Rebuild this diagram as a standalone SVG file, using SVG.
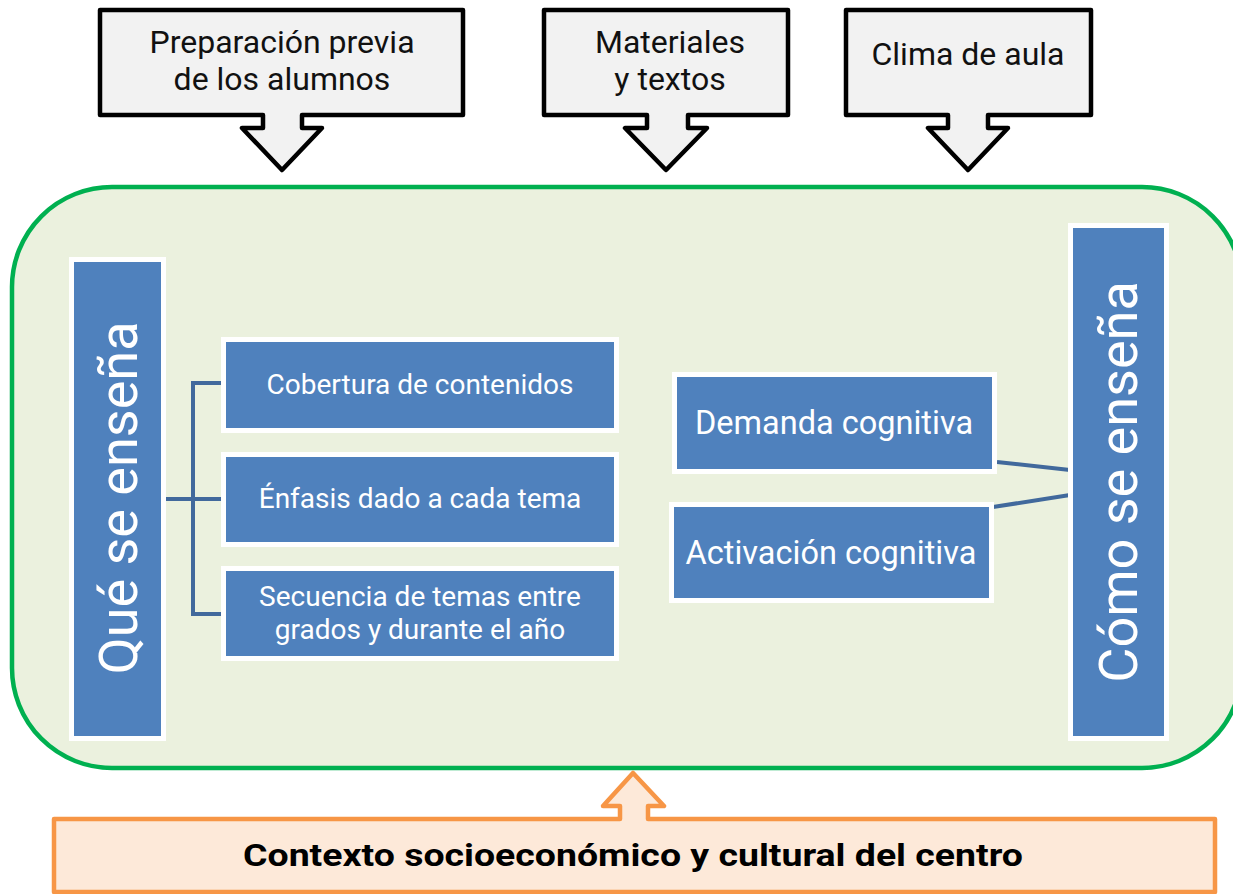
<svg xmlns="http://www.w3.org/2000/svg" width="1233" height="894" viewBox="0 0 1233 894">
<style>
.callout{fill:#F2F2F2;stroke:#000;stroke-width:4.5;stroke-linejoin:round}
.ct{font-family:Roboto,"Liberation Sans",sans-serif;font-size:32px;fill:#111;text-anchor:middle}
.bx{fill:#4F81BD;stroke:#fff;stroke-width:5}
.bt{font-family:Roboto,"Liberation Sans",sans-serif;font-size:28px;fill:#fff;text-anchor:middle}
.bt2{font-family:Roboto,"Liberation Sans",sans-serif;font-size:32.5px;fill:#fff;text-anchor:middle}
.vt{font-family:Roboto,"Liberation Sans",sans-serif;font-size:54px;fill:#fff;text-anchor:middle}
.conn{fill:none;stroke:#41699C;stroke-width:4}
</style>
<rect width="1233" height="894" fill="#fff"/>
<g id="preparacion">
<path class="callout" d="M100,10 H463 V115 H302 V128 H322 L282,170 L242,128 H263 V115 H100 Z"/>
<text class="ct" x="282" y="53">Preparación previa</text>
<text class="ct" x="282" y="90">de los alumnos</text>
</g>
<g id="materiales">
<path class="callout" d="M544,10 H788 V115 H688 V128 H707 L666,170 L625,128 H647 V115 H544 Z"/>
<text class="ct" x="670" y="53">Materiales</text>
<text class="ct" x="670" y="90">y textos</text>
</g>
<g id="clima">
<path class="callout" d="M846,10 H1091 V115 H988 V128 H1008 L968,170 L928,128 H948 V115 H846 Z"/>
<text class="ct" x="968" y="65">Clima de aula</text>
</g>
<g id="contexto-aula">
<rect x="12" y="187" width="1230" height="581" rx="100" ry="100" fill="#EBF1DE" stroke="#00B050" stroke-width="4.5"/>
</g>
<g id="connectors">
<path class="conn" d="M226,383 H193 V614 H226 M166,499 H226"/>
<path class="conn" d="M997,462 L1070,470 M993,507 L1070,495"/>
</g>
<g id="que-se-ensena">
<rect class="bx" x="71.5" y="259.5" width="92" height="479"/>
<text class="vt" transform="translate(137,498) rotate(-90)">Qué se enseña</text>
</g>
<g id="como-se-ensena">
<rect class="bx" x="1070.5" y="225.5" width="96" height="513"/>
<text class="vt" font-size="53.5" transform="translate(1137,482) rotate(-90)">Cómo se enseña</text>
</g>
<g id="cobertura">
<rect class="bx" x="223.5" y="339.5" width="393" height="91"/>
<text class="bt" x="420" y="394">Cobertura de contenidos</text>
</g>
<g id="enfasis">
<rect class="bx" x="223.5" y="454.5" width="393" height="90"/>
<text class="bt" x="420" y="508">Énfasis dado a cada tema</text>
</g>
<g id="secuencia">
<rect class="bx" x="223.5" y="568.5" width="393" height="90"/>
<text class="bt" x="420" y="606">Secuencia de temas entre</text>
<text class="bt" x="420" y="639">grados y durante el año</text>
</g>
<g id="demanda">
<rect class="bx" x="674.5" y="374.5" width="320" height="97"/>
<text class="bt2" x="834" y="434">Demanda cognitiva</text>
</g>
<g id="activacion">
<rect class="bx" x="671.5" y="504.5" width="320" height="96"/>
<text class="bt2" x="831" y="564">Activación cognitiva</text>
</g>
<g id="contexto">
<path d="M54,819 H620 V806 H603 L633,773 L664,806 H648 V819 H1215 V892 H54 Z" fill="#FDE9D9" stroke="#F79646" stroke-width="4.5" stroke-linejoin="round"/>
<text x="633" y="866" font-family="Roboto,'Liberation Sans',sans-serif" font-size="31.5" font-weight="bold" fill="#000" text-anchor="middle" textLength="780" lengthAdjust="spacingAndGlyphs">Contexto socioeconómico y cultural del centro</text>
</g>
</svg>
